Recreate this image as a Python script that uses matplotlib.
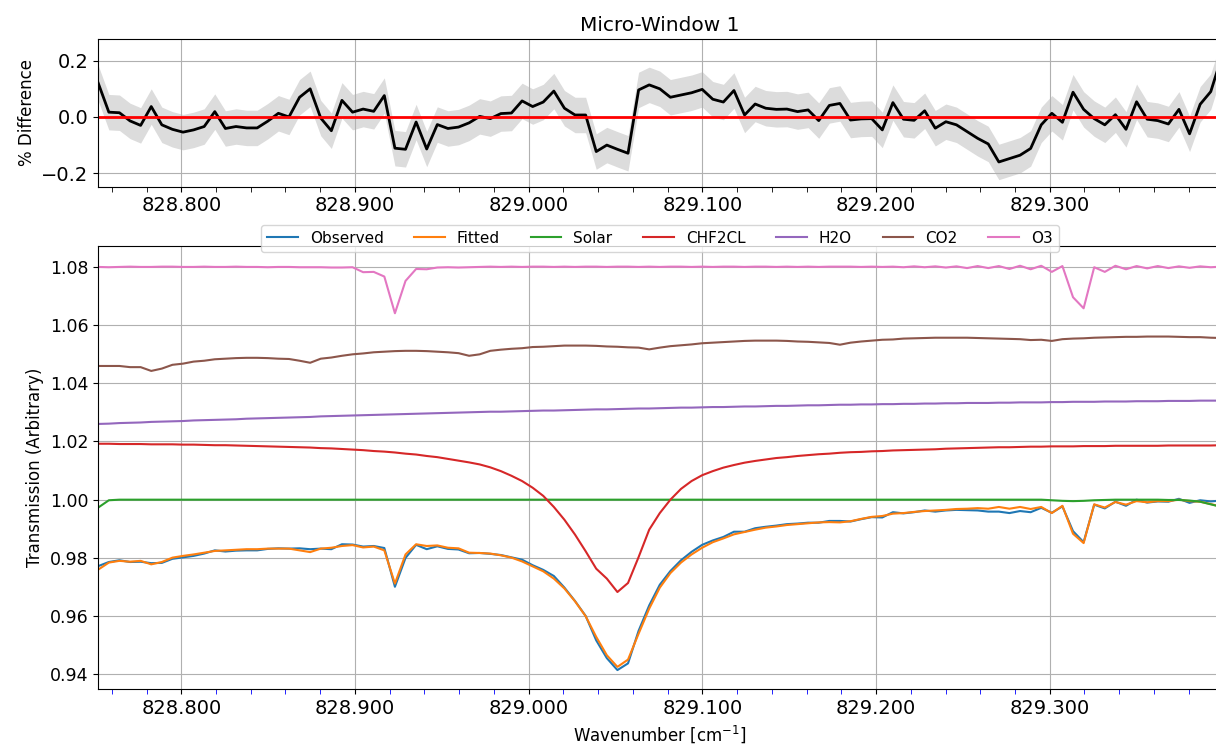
"""
Micro-window fit summary: residual (% difference) on top,
observed / fitted transmission and per-species contributions below.
"""

import numpy as np
import matplotlib
matplotlib.use("Agg")
import matplotlib.pyplot as plt
from matplotlib.ticker import MultipleLocator, FormatStrFormatter

# ── Spectral grid ─────────────────────────────────────────────────────────────
WN_START = 828.7522
WN_STEP = 0.0061
N_POINTS = 107

# ── Residual (% difference) and its uncertainty ───────────────────────────────
pct_diff = [
    0.120, 0.017, 0.015, -0.014, -0.030, 0.037, -0.028, -0.044, -0.054, -0.046,
    -0.034, 0.019, -0.041, -0.034, -0.039, -0.039, -0.015, 0.013, 0.000, 0.070,
    0.100, -0.004, -0.049, 0.059, 0.017, 0.028, 0.020, 0.076, -0.111, -0.115,
    -0.018, -0.114, -0.027, -0.041, -0.036, -0.021, 0.002, -0.006, 0.012, 0.014,
    0.057, 0.037, 0.053, 0.092, 0.031, 0.007, 0.007, -0.123, -0.100, -0.115,
    -0.129, 0.096, 0.114, 0.100, 0.070, 0.078, 0.086, 0.098, 0.063, 0.053,
    0.094, 0.007, 0.046, 0.031, 0.027, 0.028, 0.019, 0.025, -0.013, 0.041,
    0.048, -0.011, -0.007, -0.006, -0.046, 0.051, -0.008, -0.012, 0.022, -0.040,
    -0.017, -0.028, -0.052, -0.076, -0.096, -0.160, -0.148, -0.136, -0.112, -0.028,
    0.013, -0.019, 0.088, 0.027, -0.006, -0.028, 0.008, -0.044, 0.054, -0.008,
    -0.013, -0.025, 0.027, -0.060, 0.045, 0.090, 0.210,
]
pct_err = 0.063

# ── Transmission spectra ──────────────────────────────────────────────────────
observed = [
    0.9772, 0.9786, 0.9792, 0.9786, 0.9787, 0.9782, 0.9783, 0.9797, 0.9802, 0.9807,
    0.9815, 0.9826, 0.9822, 0.9825, 0.9826, 0.9826, 0.9831, 0.9833, 0.9832, 0.9833,
    0.9830, 0.9832, 0.9830, 0.9847, 0.9846, 0.9839, 0.9841, 0.9834, 0.9701, 0.9800,
    0.9845, 0.9830, 0.9840, 0.9831, 0.9829, 0.9816, 0.9817, 0.9814, 0.9810, 0.9802,
    0.9794, 0.9775, 0.9759, 0.9738, 0.9698, 0.9652, 0.9601, 0.9517, 0.9456, 0.9415,
    0.9438, 0.9550, 0.9637, 0.9708, 0.9755, 0.9792, 0.9821, 0.9845, 0.9860, 0.9872,
    0.9890, 0.9890, 0.9902, 0.9907, 0.9911, 0.9916, 0.9918, 0.9921, 0.9921, 0.9927,
    0.9927, 0.9925, 0.9933, 0.9940, 0.9939, 0.9957, 0.9953, 0.9957, 0.9963, 0.9959,
    0.9963, 0.9965, 0.9964, 0.9963, 0.9959, 0.9959, 0.9954, 0.9961, 0.9957, 0.9972,
    0.9955, 0.9977, 0.9892, 0.9854, 0.9983, 0.9970, 0.9993, 0.9979, 1.0000, 0.9990,
    0.9994, 0.9993, 1.0003, 0.9989, 0.9998, 0.9994, 0.9997,
]
fitted = [
    0.9760, 0.9784, 0.9790, 0.9787, 0.9790, 0.9778, 0.9786, 0.9801, 0.9807, 0.9812,
    0.9818, 0.9824, 0.9826, 0.9828, 0.9830, 0.9830, 0.9832, 0.9832, 0.9832, 0.9826,
    0.9820, 0.9832, 0.9835, 0.9841, 0.9844, 0.9836, 0.9839, 0.9826, 0.9712, 0.9812,
    0.9847, 0.9841, 0.9843, 0.9835, 0.9833, 0.9818, 0.9817, 0.9815, 0.9809, 0.9801,
    0.9788, 0.9771, 0.9754, 0.9729, 0.9695, 0.9651, 0.9600, 0.9529, 0.9466, 0.9426,
    0.9451, 0.9540, 0.9626, 0.9698, 0.9748, 0.9784, 0.9812, 0.9835, 0.9854, 0.9867,
    0.9881, 0.9889, 0.9897, 0.9904, 0.9908, 0.9913, 0.9916, 0.9919, 0.9922, 0.9923,
    0.9922, 0.9926, 0.9934, 0.9941, 0.9944, 0.9952, 0.9954, 0.9958, 0.9961, 0.9963,
    0.9965, 0.9968, 0.9969, 0.9971, 0.9969, 0.9975, 0.9969, 0.9975, 0.9968, 0.9975,
    0.9954, 0.9979, 0.9883, 0.9851, 0.9984, 0.9973, 0.9992, 0.9983, 0.9995, 0.9991,
    0.9995, 0.9995, 1.0000, 0.9995, 0.9993, 0.9985, 0.9976,
]
solar = [0.9973, 0.9998] + [1.0000] * 88 + [
    0.9998, 0.9996, 0.9995, 0.9996, 0.9998, 0.9999, 1.0000, 1.0000, 1.0000, 1.0000,
    1.0000, 0.9999, 0.9999, 0.9997, 0.9993, 0.9984, 0.9975,
]
chf2cl = [
    1.0192, 1.0192, 1.0191, 1.0191, 1.0191, 1.0190, 1.0190, 1.0190, 1.0189, 1.0189,
    1.0188, 1.0187, 1.0187, 1.0186, 1.0185, 1.0184, 1.0183, 1.0182, 1.0181, 1.0180,
    1.0179, 1.0177, 1.0176, 1.0174, 1.0172, 1.0170, 1.0167, 1.0165, 1.0162, 1.0158,
    1.0155, 1.0150, 1.0146, 1.0140, 1.0134, 1.0128, 1.0121, 1.0111, 1.0098, 1.0082,
    1.0064, 1.0041, 1.0013, 0.9975, 0.9931, 0.9880, 0.9823, 0.9763, 0.9729, 0.9683,
    0.9714, 0.9803, 0.9897, 0.9954, 1.0000, 1.0037, 1.0064, 1.0084, 1.0098, 1.0110,
    1.0119, 1.0127, 1.0133, 1.0138, 1.0143, 1.0146, 1.0150, 1.0153, 1.0156, 1.0158,
    1.0161, 1.0163, 1.0164, 1.0166, 1.0167, 1.0169, 1.0170, 1.0171, 1.0172, 1.0173,
    1.0175, 1.0176, 1.0177, 1.0178, 1.0179, 1.0180, 1.0180, 1.0181, 1.0182, 1.0182,
    1.0183, 1.0183, 1.0183, 1.0184, 1.0184, 1.0184, 1.0185, 1.0185, 1.0185, 1.0185,
    1.0185, 1.0186, 1.0186, 1.0186, 1.0186, 1.0186, 1.0187,
]
h2o = [
    1.0260, 1.0261, 1.0263, 1.0264, 1.0265, 1.0267, 1.0268, 1.0269, 1.0270, 1.0272,
    1.0273, 1.0274, 1.0275, 1.0276, 1.0278, 1.0279, 1.0280, 1.0281, 1.0282, 1.0283,
    1.0284, 1.0286, 1.0287, 1.0288, 1.0289, 1.0290, 1.0291, 1.0292, 1.0293, 1.0294,
    1.0295, 1.0296, 1.0297, 1.0298, 1.0299, 1.0300, 1.0301, 1.0302, 1.0302, 1.0303,
    1.0304, 1.0305, 1.0306, 1.0306, 1.0307, 1.0308, 1.0309, 1.0310, 1.0310, 1.0311,
    1.0312, 1.0313, 1.0313, 1.0314, 1.0315, 1.0316, 1.0316, 1.0317, 1.0318, 1.0318,
    1.0319, 1.0320, 1.0320, 1.0321, 1.0322, 1.0322, 1.0323, 1.0324, 1.0324, 1.0325,
    1.0326, 1.0326, 1.0327, 1.0327, 1.0328, 1.0328, 1.0329, 1.0329, 1.0330, 1.0330,
    1.0331, 1.0331, 1.0332, 1.0332, 1.0332, 1.0333, 1.0333, 1.0334, 1.0334, 1.0334,
    1.0335, 1.0335, 1.0336, 1.0336, 1.0336, 1.0337, 1.0337, 1.0337, 1.0338, 1.0338,
    1.0338, 1.0339, 1.0339, 1.0339, 1.0340, 1.0340, 1.0340,
]
co2 = [
    1.0459, 1.0459, 1.0459, 1.0455, 1.0455, 1.0442, 1.0450, 1.0463, 1.0467, 1.0474,
    1.0477, 1.0482, 1.0484, 1.0486, 1.0487, 1.0487, 1.0486, 1.0484, 1.0483, 1.0477,
    1.0470, 1.0484, 1.0488, 1.0494, 1.0499, 1.0502, 1.0506, 1.0508, 1.0510, 1.0511,
    1.0511, 1.0510, 1.0508, 1.0506, 1.0503, 1.0494, 1.0499, 1.0511, 1.0515, 1.0518,
    1.0520, 1.0524, 1.0525, 1.0527, 1.0529, 1.0529, 1.0529, 1.0528, 1.0526, 1.0525,
    1.0523, 1.0522, 1.0516, 1.0522, 1.0527, 1.0530, 1.0533, 1.0537, 1.0539, 1.0541,
    1.0543, 1.0545, 1.0546, 1.0546, 1.0546, 1.0545, 1.0543, 1.0542, 1.0540, 1.0538,
    1.0532, 1.0539, 1.0543, 1.0546, 1.0549, 1.0550, 1.0553, 1.0554, 1.0555, 1.0556,
    1.0556, 1.0556, 1.0556, 1.0555, 1.0554, 1.0553, 1.0552, 1.0551, 1.0548, 1.0549,
    1.0545, 1.0551, 1.0553, 1.0554, 1.0556, 1.0557, 1.0558, 1.0559, 1.0559, 1.0560,
    1.0560, 1.0560, 1.0559, 1.0558, 1.0558, 1.0556, 1.0555,
]
o3 = [
    1.0799, 1.0798, 1.0799, 1.0800, 1.0799, 1.0799, 1.0800, 1.0800, 1.0799, 1.0799,
    1.0800, 1.0799, 1.0799, 1.0800, 1.0799, 1.0799, 1.0798, 1.0799, 1.0799, 1.0798,
    1.0798, 1.0798, 1.0797, 1.0797, 1.0798, 1.0781, 1.0782, 1.0766, 1.0640, 1.0751,
    1.0792, 1.0791, 1.0797, 1.0798, 1.0797, 1.0798, 1.0799, 1.0800, 1.0799, 1.0800,
    1.0799, 1.0800, 1.0800, 1.0799, 1.0800, 1.0799, 1.0800, 1.0800, 1.0799, 1.0800,
    1.0800, 1.0799, 1.0800, 1.0799, 1.0800, 1.0800, 1.0799, 1.0800, 1.0799, 1.0800,
    1.0800, 1.0799, 1.0800, 1.0800, 1.0799, 1.0800, 1.0799, 1.0800, 1.0799, 1.0800,
    1.0800, 1.0800, 1.0799, 1.0800, 1.0799, 1.0800, 1.0798, 1.0801, 1.0798, 1.0801,
    1.0797, 1.0801, 1.0795, 1.0802, 1.0795, 1.0802, 1.0792, 1.0803, 1.0791, 1.0803,
    1.0782, 1.0802, 1.0695, 1.0657, 1.0798, 1.0782, 1.0803, 1.0791, 1.0802, 1.0794,
    1.0802, 1.0795, 1.0801, 1.0796, 1.0801, 1.0798, 1.0800,
]

species_labels = ["Observed", "Fitted", "Solar", "CHF2CL", "H2O", "CO2", "O3"]

wn = WN_START + WN_STEP * np.arange(N_POINTS)
pct_diff = np.array(pct_diff)

# ── Figure layout (two stacked panels, bottom one taller) ─────────────────────
fig = plt.figure(figsize=(12.16, 7.49), dpi=100)
ax_top = fig.add_axes([0.0808, 0.7507, 0.9236, 0.1972])
ax_bot = fig.add_axes([0.0808, 0.0797, 0.9236, 0.5923])

# ── 1. Residual panel ─────────────────────────────────────────────────────────
ax_top.fill_between(wn, pct_diff - pct_err, pct_diff + pct_err,
                    color="#dcdcdc", linewidth=0)
ax_top.plot(wn, pct_diff, color="black", linewidth=2)
ax_top.axhline(0.0, color="red", linewidth=2)
ax_top.set_ylim(-0.248, 0.277)
ax_top.set_yticks([-0.2, 0.0, 0.2])
ax_top.set_ylabel("% Difference", fontsize=12)
ax_top.set_title("Micro-Window 1", fontsize=14.5)
ax_top.grid(True)
ax_top.tick_params(axis="y", which="major", labelsize=14)

# ── 2. Transmission panel ─────────────────────────────────────────────────────
series = [observed, fitted, solar, chf2cl, h2o, co2, o3]
for values, label in zip(series, species_labels):
    ax_bot.plot(wn, values, label=label)
ax_bot.set_ylim(0.9349, 1.0872)
ax_bot.set_yticks([0.94, 0.96, 0.98, 1.00, 1.02, 1.04, 1.06, 1.08])
ax_bot.set_ylabel("Transmission (Arbitrary)", fontsize=12)
ax_bot.set_xlabel("Wavenumber [cm$^{-1}$]", fontsize=12)
ax_bot.grid(True)
ax_bot.tick_params(axis="y", which="major", labelsize=12.5)
ax_bot.legend(loc="center", bbox_to_anchor=(0.5, 1.017), ncol=7, fontsize=11)

# ── Shared x-axis formatting ──────────────────────────────────────────────────
for ax in (ax_top, ax_bot):
    ax.set_xlim(wn[0], wn[-1])
    ax.xaxis.set_major_locator(MultipleLocator(0.1))
    ax.xaxis.set_minor_locator(MultipleLocator(0.02))
    ax.xaxis.set_major_formatter(FormatStrFormatter("%.3f"))
    ax.tick_params(axis="x", which="major", labelsize=14)
    ax.tick_params(axis="x", which="minor", length=3.5)

ax_bot.tick_params(axis="x", which="minor", color="blue")

plt.savefig("out.png", dpi=100)
plt.close()
